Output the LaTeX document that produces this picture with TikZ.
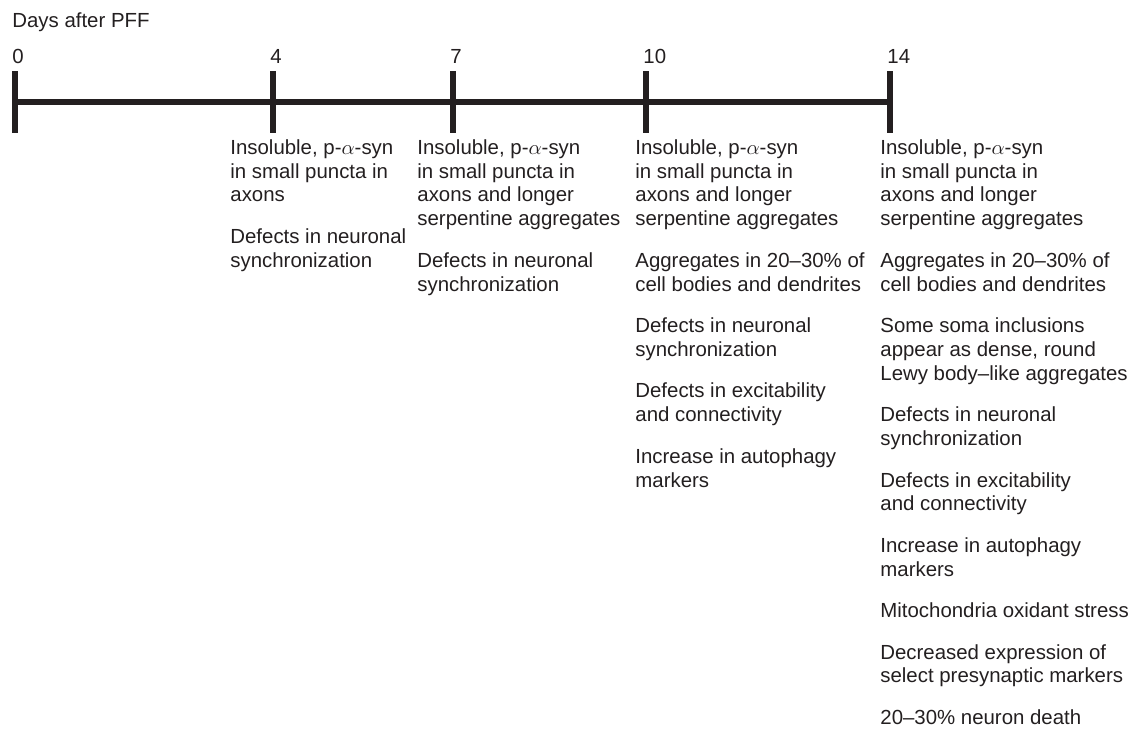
\documentclass[tikz,border=0pt]{standalone}
\usepackage{fontspec}
\setmainfont{Liberation Sans}
\definecolor{ink}{HTML}{231F20}
\begin{document}
\begin{tikzpicture}[x=0.49pt, y=-0.49pt, every node/.style={inner sep=0pt, text=ink, font=\fontsize{10}{11.7}\selectfont},
		day/.style={anchor=base west},
		col/.style={anchor=north west, align=left},
		tick/.style={draw=ink, line width=3pt},
		bar/.style={draw=ink, line width=2.6pt}]
	\useasboundingbox (0, 0) rectangle (1136, 729);

	\node[day] (title) at (12, 27) {Days after PFF};

	% time line with its days
	\foreach \d/\x in {0/15, 4/273, 7/453, 10/646, 14/890} {
		\coordinate (d\d) at (\x, 102);
		\coordinate (u\d) at (\x, 71);
		\coordinate (b\d) at (\x, 133);
		\node[day] (l\d) at (\x-3, 63) {\d};
		\draw[tick] (u\d) -- (b\d);
	}
	\draw[bar] (d0) -- (d14);

	% findings per day
	\node[col] (c4) at (230, 139) {Insoluble, p-$\alpha$-syn\\ in small puncta in\\ axons\\[8.6pt]
		Defects in neuronal\\ synchronization};
	\node[col] (c7) at (417, 139) {Insoluble, p-$\alpha$-syn\\ in small puncta in\\ axons and longer\\ serpentine aggregates\\[8.6pt]
		Defects in neuronal\\ synchronization};
	\node[col] (c10) at (635, 139) {Insoluble, p-$\alpha$-syn\\ in small puncta in\\ axons and longer\\ serpentine aggregates\\[8.6pt]
		Aggregates in 20--30\% of\\ cell bodies and dendrites\\[8.6pt]
		Defects in neuronal\\ synchronization\\[8.6pt]
		Defects in excitability\\ and connectivity\\[8.6pt]
		Increase in autophagy\\ markers};
	\node[col] (c14) at (880, 139) {Insoluble, p-$\alpha$-syn\\ in small puncta in\\ axons and longer\\ serpentine aggregates\\[8.6pt]
		Aggregates in 20--30\% of\\ cell bodies and dendrites\\[8.6pt]
		Some soma inclusions\\ appear as dense, round\\ Lewy body--like aggregates\\[8.6pt]
		Defects in neuronal\\ synchronization\\[8.6pt]
		Defects in excitability\\ and connectivity\\[8.6pt]
		Increase in autophagy\\ markers\\[8.6pt]
		Mitochondria oxidant stress\\[8.6pt]
		Decreased expression of\\ select presynaptic markers\\[8.6pt]
		20--30\% neuron death};
\end{tikzpicture}
\end{document}
